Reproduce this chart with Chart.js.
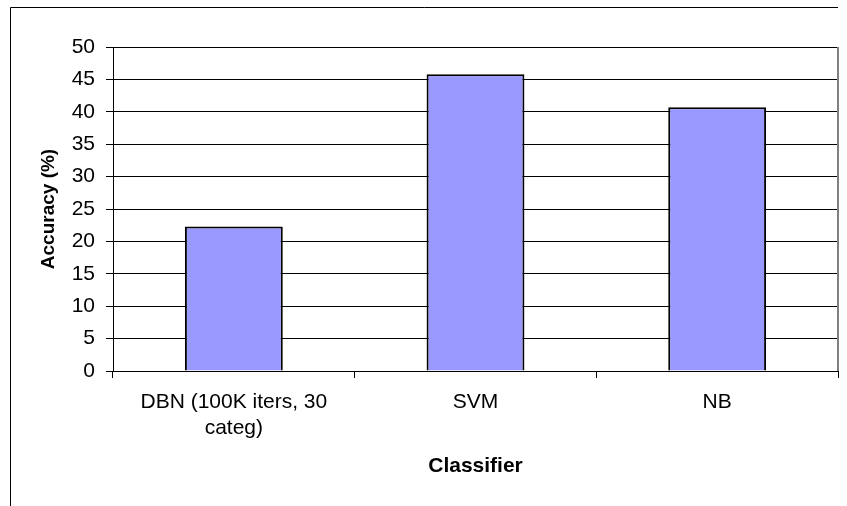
<!DOCTYPE html>
<html>
<head>
<meta charset="utf-8">
<script src="https://cdn.jsdelivr.net/npm/chart.js@4/dist/chart.umd.min.js"></script>
<style>
  html, body { margin: 0; padding: 0; background: #fff; }
  #wrap { width: 847px; height: 506px; }
</style>
</head>
<body>
<div id="wrap"><canvas id="c" width="847" height="506"></canvas></div>
<script>
// Classifier accuracy comparison
const categories = [["DBN (100K iters, 30", "categ)"], "SVM", "NB"];
const accuracy = [22.3, 45.8, 40.7];
const yMin = 0;
const yMax = 50;
const yStep = 5;

const FONT = "'Liberation Sans', Arial, sans-serif";

// Outer frame (top and left edges) and the grey plot-area edge on the right
const framePlugin = {
  id: 'frame',
  beforeDraw(chart) {
    const ctx = chart.ctx;
    ctx.save();
    ctx.strokeStyle = '#000';
    ctx.lineWidth = 1;
    ctx.beginPath();
    ctx.moveTo(10.5, 506);
    ctx.lineTo(10.5, 7.5);
    ctx.lineTo(838, 7.5);
    ctx.stroke();
    ctx.restore();
  },
  afterDatasetsDraw(chart) {
    const a = chart.chartArea;
    const ctx = chart.ctx;
    ctx.save();
    ctx.strokeStyle = '#808080';
    ctx.lineWidth = 2;
    ctx.beginPath();
    ctx.moveTo(a.right, a.top);
    ctx.lineTo(a.right, a.bottom);
    ctx.stroke();
    ctx.restore();
  }
};

new Chart(document.getElementById('c'), {
  type: 'bar',
  data: {
    labels: categories,
    datasets: [{
      data: accuracy,
      backgroundColor: '#9999FF',
      borderColor: '#000',
      borderWidth: 2,
      barPercentage: 0.405,
      categoryPercentage: 1.0
    }]
  },
  options: {
    responsive: false,
    animation: false,
    devicePixelRatio: 1,
    layout: { padding: { left: 10, top: 47, right: 9, bottom: 0 } },
    plugins: {
      legend: { display: false },
      tooltip: { enabled: false },
      title: { display: false }
    },
    scales: {
      x: {
        offset: true,
        afterFit(scale) { scale.height = 135; },
        grid: {
          offset: true,
          drawOnChartArea: false,
          drawTicks: true,
          tickLength: 7,
          color: '#000'
        },
        border: { display: true, color: '#000', width: 1 },
        ticks: {
          color: '#000',
          padding: 12,
          maxRotation: 0,
          autoSkip: false,
          font: { family: FONT, size: 21 }
        },
        title: {
          display: true,
          text: 'Classifier',
          color: '#000',
          padding: { top: 0, bottom: 27 },
          font: { family: FONT, size: 21, weight: 'bold' }
        }
      },
      y: {
        min: yMin,
        max: yMax,
        afterFit(scale) { scale.width = 103; },
        grid: {
          color: '#000',
          lineWidth: 1,
          drawTicks: true,
          tickLength: 7
        },
        border: { display: true, color: '#000', width: 1 },
        ticks: {
          stepSize: yStep,
          color: '#000',
          padding: 11,
          font: { family: FONT, size: 21 }
        },
        title: {
          display: true,
          text: 'Accuracy (%)',
          color: '#000',
          padding: { top: 27, bottom: 0 },
          font: { family: FONT, size: 19, weight: 'bold' }
        }
      }
    }
  },
  plugins: [framePlugin]
});
</script>
</body>
</html>
